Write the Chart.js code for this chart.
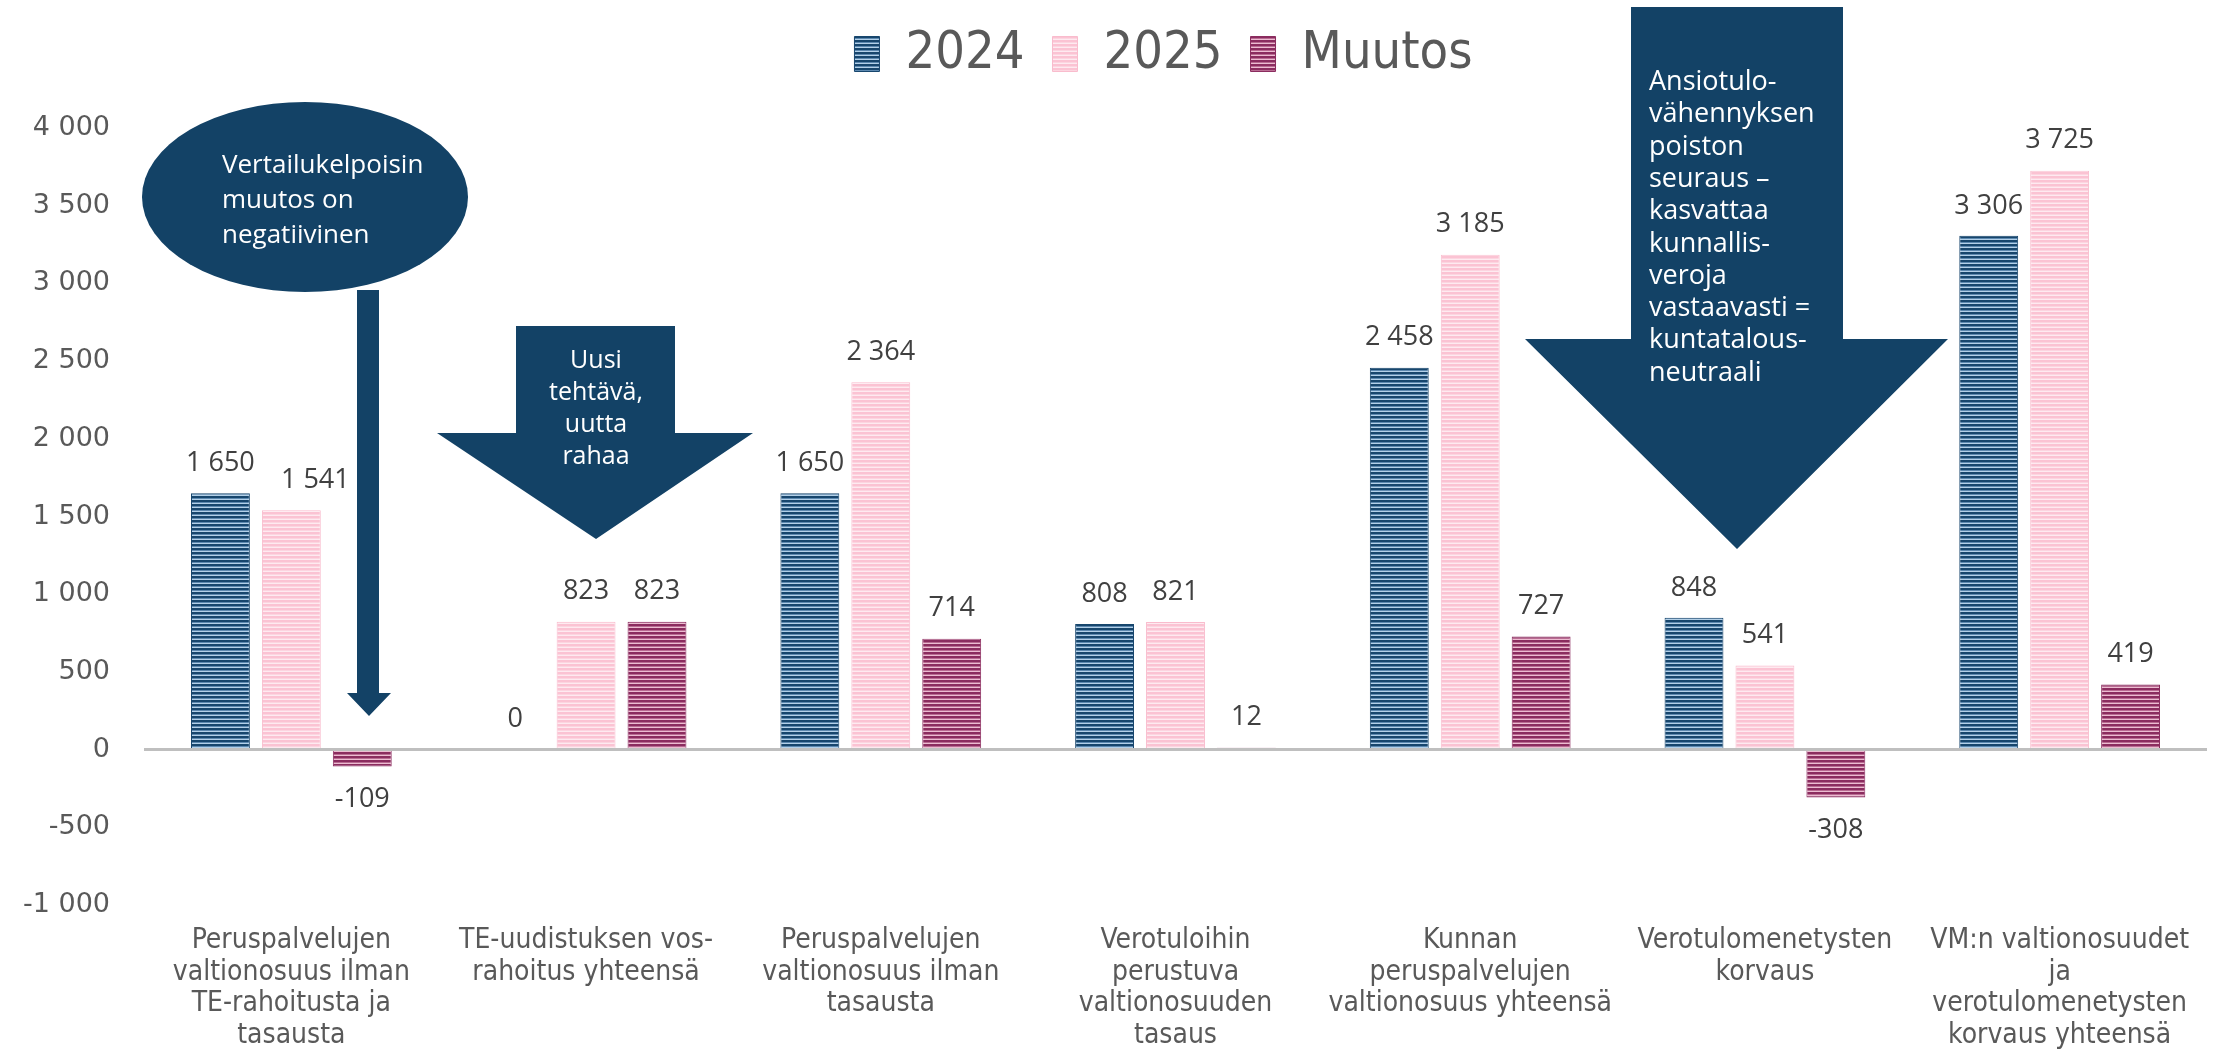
<!DOCTYPE html>
<html lang="fi">
<head>
<meta charset="utf-8">
<title>Valtionosuudet 2024–2025</title>
<script src="https://cdn.jsdelivr.net/npm/chart.js@4.4.1/dist/chart.umd.min.js"></script>
<style>
  html, body { margin: 0; padding: 0; background: #fff; }
  #wrap { width: 2218px; height: 1049px; position: relative; }
</style>
</head>
<body>
<div id="wrap"><canvas id="barChart"></canvas></div>
<script>
// --- Data ---
const kategoriat = [
    ['Peruspalvelujen', 'valtionosuus ilman', 'TE-rahoitusta ja', 'tasausta'],
    ['TE-uudistuksen vos-', 'rahoitus yhteensä'],
    ['Peruspalvelujen', 'valtionosuus ilman', 'tasausta'],
    ['Verotuloihin', 'perustuva', 'valtionosuuden', 'tasaus'],
    ['Kunnan', 'peruspalvelujen', 'valtionosuus yhteensä'],
    ['Verotulomenetysten', 'korvaus'],
    ['VM:n valtionosuudet', 'ja', 'verotulomenetysten', 'korvaus yhteensä']
];
const arvot2024 = [1650, 0, 1650, 808, 2458, 848, 3306];
const arvot2025 = [1541, 823, 2364, 821, 3185, 541, 3725];
const muutos = [-109, 823, 714, 12, 727, -308, 419];
const sarjat = ['2024', '2025', 'Muutos'];

const labelFont = "'Open Sans', 'DejaVu Sans', sans-serif";
const tickFont = "'DejaVu Sans', 'Open Sans', sans-serif";
const narrowFont = "'Liberation Sans Narrow', 'DejaVu Sans Condensed', Roboto, sans-serif";
const navy = '#134266';

// muotoilu: 1 650, -1 000
function fmt(v) {
    const s = String(Math.abs(v)).replace(/\B(?=(\d{3})+(?!\d))/g, ' ');
    return (v < 0 ? '-' : '') + s;
}

// vaakaraidoitettu täyttö
function raidat(tumma, vaalea, keski) {
    const c = document.createElement('canvas');
    c.width = 4; c.height = 4;
    const g = c.getContext('2d');
    g.fillStyle = tumma; g.fillRect(0, 0, 4, 4);
    g.fillStyle = keski; g.fillRect(0, 2, 4, 1);
    g.fillStyle = vaalea; g.fillRect(0, 3, 4, 1);
    return g.createPattern(c, 'repeat');
}

const ctx = document.getElementById('barChart').getContext('2d');
const fill2024 = raidat('#17466d', '#b3d0e8', '#5d89b0');
const fill2025 = raidat('#fbc3d3', '#feeaf0', '#fcd5e0');
const fillMuutos = raidat('#8b2c5f', '#ecbcd1', '#b96b92');

// Pylväiden arvot
const arvoTekstit = {
    id: 'arvoTekstit',
    afterDatasetsDraw(chart) {
        const c = chart.ctx;
        c.save();
        c.font = "27px " + labelFont;
        c.fillStyle = '#404040';
        c.textAlign = 'center';
        c.textBaseline = 'middle';
        chart.data.datasets.forEach((ds, i) => {
            chart.getDatasetMeta(i).data.forEach((bar, j) => {
                const v = ds.data[j];
                const y = v >= 0 ? bar.y - 30 : bar.y + 33;
                // 1 541 on siirretty nuolen viereen kuten alkuperäisessä
                const dx = (i === 1 && j === 0) ? 24 : 0;
                c.fillText(fmt(v), bar.x + dx, y);
            });
        });
        c.restore();
    }
};

// Huomiolaatikot (ellipsi + nuolet)
function nuoli(c, x1, x2, top, headY, hx1, hx2, tipX, tipY) {
    c.beginPath();
    c.moveTo(x1, top); c.lineTo(x2, top); c.lineTo(x2, headY);
    c.lineTo(hx2, headY); c.lineTo(tipX, tipY); c.lineTo(hx1, headY);
    c.lineTo(x1, headY); c.closePath();
    c.fill();
}

const huomiot = {
    id: 'huomiot',
    afterDraw(chart) {
        const c = chart.ctx;
        c.save();
        c.fillStyle = navy;
        // ellipsi ja ohut nuoli
        c.beginPath();
        c.ellipse(305, 197, 163, 95, 0, 0, Math.PI * 2);
        c.fill();
        nuoli(c, 357, 379, 290, 693, 347, 391, 369, 716);
        // Uusi tehtävä
        nuoli(c, 516, 675, 326, 433, 437, 753, 596, 539);
        // Ansiotulovähennys
        nuoli(c, 1631, 1843, 7, 339, 1525, 1948, 1737, 549);

        c.fillStyle = '#ffffff';
        c.textBaseline = 'alphabetic';
        c.textAlign = 'left';
        c.font = "26px " + labelFont;
        ['Vertailukelpoisin', 'muutos on', 'negatiivinen'].forEach((t, i) => c.fillText(t, 222, 173 + i * 35));

        c.textAlign = 'center';
        c.font = "25px " + labelFont;
        ['Uusi', 'tehtävä,', 'uutta', 'rahaa'].forEach((t, i) => c.fillText(t, 596, 368 + i * 32));

        c.textAlign = 'left';
        c.font = "27px " + labelFont;
        ['Ansiotulo-', 'vähennyksen', 'poiston', 'seuraus –', 'kasvattaa', 'kunnallis-',
         'veroja', 'vastaavasti =', 'kuntatalous-', 'neutraali']
            .forEach((t, i) => c.fillText(t, 1649, 90 + i * 32.3));
        c.restore();
    }
};

// selite hieman oikealle ja korkeus kiinteäksi
const seliteSiirto = {
    id: 'seliteSiirto',
    beforeInit(chart) {
        const fit = chart.legend.fit;
        chart.legend.fit = function () {
            fit.call(this);
            this.height = 128;
        };
    },
    afterLayout(chart) {
        chart.legend.left += 60;
        chart.legend.right += 60;
    }
};

new Chart(ctx, {
    type: 'bar',
    data: {
        labels: kategoriat,
        datasets: [
            { label: sarjat[0], data: arvot2024, backgroundColor: fill2024, borderColor: '#17466d', borderWidth: 1 },
            { label: sarjat[1], data: arvot2025, backgroundColor: fill2025, borderColor: '#f9bccd', borderWidth: 1 },
            { label: sarjat[2], data: muutos, backgroundColor: fillMuutos, borderColor: '#8b2c5f', borderWidth: 1 }
        ]
    },
    options: {
        responsive: true,
        maintainAspectRatio: false,
        animation: false,
        layout: { padding: { left: 0, right: 11, top: 0, bottom: 0 } },
        datasets: { bar: { categoryPercentage: 0.722, barPercentage: 0.83 } },
        plugins: {
            legend: {
                position: 'top',
                labels: {
                    boxWidth: 25,
                    boxHeight: 35,
                    padding: 28,
                    color: '#595959',
                    font: { family: narrowFont, size: 52 }
                }
            },
            tooltip: { enabled: false }
        },
        scales: {
            x: {
                grid: { display: false, drawTicks: false },
                border: { display: false },
                ticks: {
                    color: '#595959',
                    font: { family: narrowFont, size: 28, lineHeight: 1.13 },
                    padding: 20,
                    maxRotation: 0,
                    autoSkip: false
                },
                afterFit(scale) { scale.height = 144; }
            },
            y: {
                min: -1000,
                max: 4000,
                grid: {
                    color: c => c.tick.value === 0 ? '#bfbfbf' : 'rgba(0,0,0,0)',
                    lineWidth: 3,
                    drawTicks: false
                },
                border: { display: false },
                ticks: {
                    stepSize: 500,
                    color: '#595959',
                    padding: 34,
                    font: { family: tickFont, size: 27 },
                    callback: v => fmt(v)
                },
                afterFit(scale) { scale.width = 144; }
            }
        }
    },
    plugins: [arvoTekstit, huomiot, seliteSiirto]
});
</script>
</body>
</html>
